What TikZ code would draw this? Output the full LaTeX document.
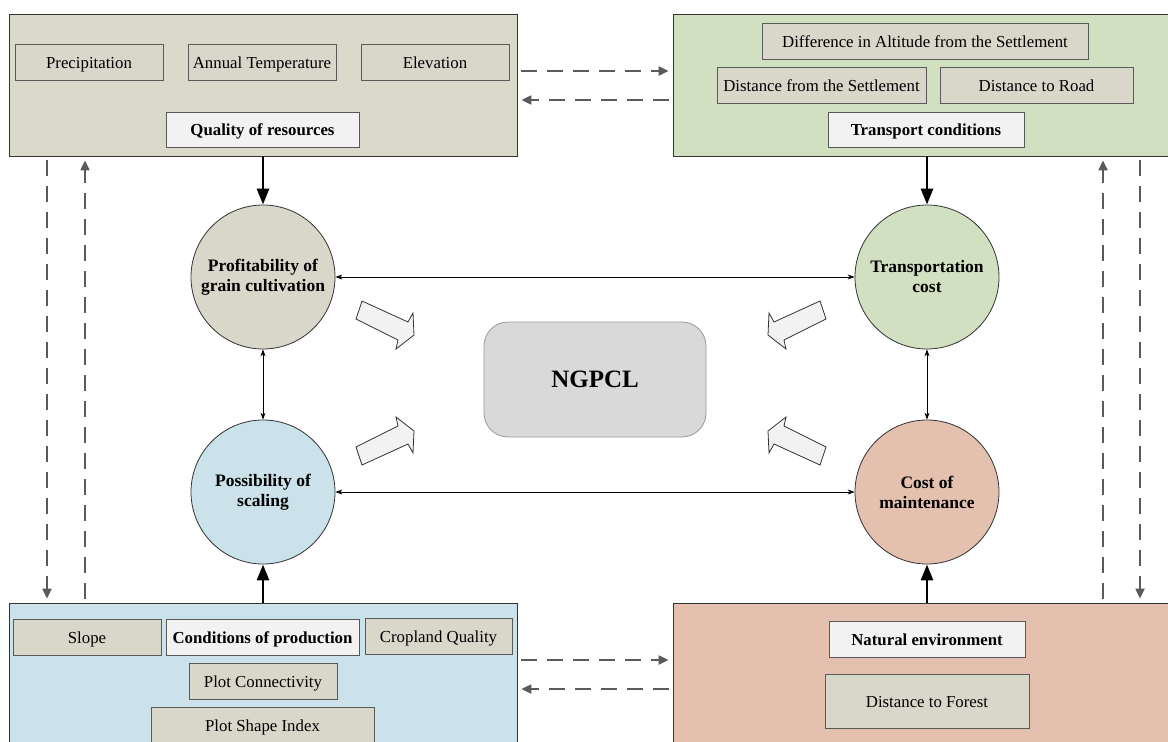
\documentclass[tikz,border=0pt]{standalone}
\usepackage{fontspec}
\setmainfont{Liberation Serif}
\usetikzlibrary{arrows.meta,calc}
\definecolor{beige}{HTML}{DBD8CC}
\definecolor{ibeige}{HTML}{D9D6CA}
\definecolor{lgreen}{HTML}{D1E0C1}
\definecolor{lblue}{HTML}{CBE2EA}
\definecolor{lsalmon}{HTML}{E4C0AE}
\definecolor{lwhite}{HTML}{F2F2F2}
\definecolor{ngray}{HTML}{D9D9D9}
\definecolor{dgray}{HTML}{5A5A5A}
\tikzset{
  outerbox/.style={draw=black!80,line width=0.9pt,inner sep=0pt,rectangle},
  itembox/.style={draw=black!65,line width=1pt,fill=ibeige,inner sep=0pt,minimum height=36pt,
    text height=14pt,text depth=2pt,font=\fontsize{16.8}{19}\selectfont},
  labelbox/.style={draw=black!65,line width=1pt,fill=lwhite,inner sep=0pt,minimum height=36pt,
    text height=14pt,text depth=2pt,font=\fontsize{16.8}{19}\selectfont\bfseries},
  factor/.style={circle,draw=black!80,line width=0.8pt,minimum size=144pt,inner sep=0pt,align=center,
    font=\fontsize{17.5}{20}\selectfont\bfseries},
  thickarr/.style={line width=2.8pt,-{Triangle[length=16pt,width=12pt]}},
  thinarr/.style={line width=0.7pt,{Stealth[length=7pt,width=5pt]}-{Stealth[length=7pt,width=5pt]}},
  dasharr/.style={dgray,line width=2.2pt,dash pattern=on 16pt off 10pt,
    -{Triangle[length=10pt,width=9pt]},shorten <=4pt,shorten >=4pt},
  fatarrow/.style={draw=black!80,line width=0.8pt,fill=lwhite,line join=miter}
}
\begin{document}
\begin{tikzpicture}[x=1pt,y=-1pt]
\useasboundingbox (0,0) rectangle (1168,742);
\clip (0,0) rectangle (1168,742);
\fill[white] (0,0) rectangle (1168,742);

% outer boxes
\node[outerbox,fill=beige,minimum width=508pt,minimum height=142pt] (tl) at (263,85) {};
\node[outerbox,fill=lgreen,minimum width=498pt,minimum height=142pt] (tr) at (922,85) {};
\node[outerbox,fill=lblue,minimum width=508pt,minimum height=142pt] (bl) at (263,674) {};
\node[outerbox,fill=lsalmon,minimum width=498pt,minimum height=142pt] (br) at (922,674) {};

% top-left items
\node[itembox,minimum width=148pt] (prec) at (89,62) {Precipitation};
\node[itembox,minimum width=148pt] (temp) at (262,62) {Annual Temperature};
\node[itembox,minimum width=148pt] (elev) at (435,62) {Elevation};
\node[labelbox,minimum width=193pt,minimum height=35pt] (qual) at (262.5,129.5) {Quality of resources};

% top-right items
\node[itembox,minimum width=326pt] (diff) at (925,41) {Difference in Altitude from the Settlement};
\node[itembox,minimum width=209pt] (dset) at (821.5,85) {Distance from the Settlement};
\node[itembox,minimum width=193pt] (droad) at (1036.5,85) {Distance to Road};
\node[labelbox,minimum width=196pt,minimum height=35pt] (trans) at (926,129.5) {Transport conditions};

% bottom-left items
\node[itembox,minimum width=148pt] (slope) at (87,637) {Slope};
\node[labelbox,minimum width=193pt] (cond) at (262.5,637) {Conditions of production};
\node[itembox,minimum width=147pt] (crop) at (438.5,636) {Cropland Quality};
\node[itembox,minimum width=148pt] (conn) at (263,681) {Plot Connectivity};
\node[itembox,minimum width=223pt] (shape) at (262.5,725) {Plot Shape Index};

% bottom-right items
\node[labelbox,minimum width=196pt] (nat) at (927,639) {Natural environment};
\node[itembox,minimum width=204pt,minimum height=54pt] (forest) at (927,701) {Distance to Forest};

% circles
\node[factor,fill=ibeige] (prof) at (263,277) {Profitability of\\grain cultivation};
\node[factor,fill=lblue] (poss) at (263,492) {Possibility of\\scaling};
\node[factor,fill=lgreen] (tcost) at (927,277) {Transportation\\cost};
\node[factor,fill=lsalmon] (mcost) at (927,492) {Cost of\\maintenance};

% center
\node[draw=black!40,line width=0.8pt,fill=ngray,rounded corners=24pt,minimum width=222pt,minimum height=115pt,
  font=\fontsize{25}{30}\selectfont\bfseries] (ng) at (595,379.5) {NGPCL};

% thick arrows
\draw[thickarr] (prof.north |- tl.south) -- (prof.north);
\draw[thickarr] (tcost.north |- tr.south) -- (tcost.north);
\draw[thickarr] (poss.south |- bl.north) -- (poss.south);
\draw[thickarr] (mcost.south |- br.north) -- (mcost.south);

% thin arrows
\draw[thinarr] (prof.east) -- (tcost.west);
\draw[thinarr] (poss.east) -- (mcost.west);
\draw[thinarr] (prof.south) -- (poss.north);
\draw[thinarr] (tcost.south) -- (mcost.north);

% dashed arrows
\coordinate (h1) at (0,71);
\coordinate (h2) at (0,100);
\coordinate (h3) at (0,660);
\coordinate (h4) at (0,689);
\coordinate (v1) at (47,0);
\coordinate (v2) at (85,0);
\coordinate (v3) at (1103,0);
\coordinate (v4) at (1140,0);
\draw[dasharr] (tl.east |- h1) -- (tr.west |- h1);
\draw[dasharr] (tr.west |- h2) -- (tl.east |- h2);
\draw[dasharr] (bl.east |- h3) -- (br.west |- h3);
\draw[dasharr] (br.west |- h4) -- (bl.east |- h4);
\draw[dasharr] (tl.south -| v1) -- (bl.north -| v1);
\draw[dasharr] (bl.north -| v2) -- (tl.south -| v2);
\draw[dasharr] (br.north -| v3) -- (tr.south -| v3);
\draw[dasharr] (tr.south -| v4) -- (br.north -| v4);

% fat block arrows
\foreach \sx/\sy in {1/1,1/-1,-1/1,-1/-1}{
  \begin{scope}[shift={(591,383)},xscale=\sx,yscale=\sy]
    \draw[fatarrow] (-229,-82) -- (-183,-61) -- (-178,-70) -- (-177,-48) -- (-195,-34) -- (-193,-43) -- (-235,-64) -- cycle;
  \end{scope}
}
\end{tikzpicture}
\end{document}
